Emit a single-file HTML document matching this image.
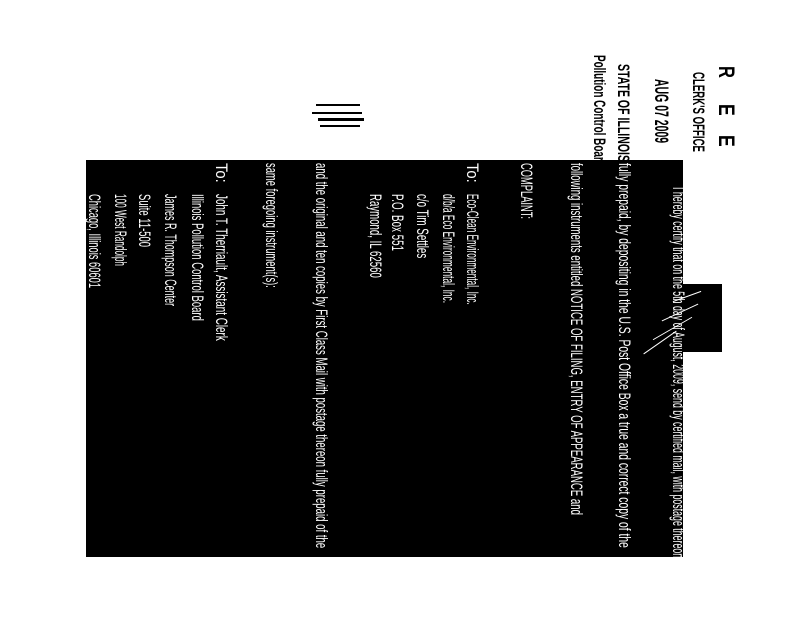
<!DOCTYPE html>
<html><head><meta charset="utf-8"><style>
html,body{margin:0;padding:0;background:#fff;}
#c{position:relative;width:800px;height:618px;overflow:hidden;background:#fff;}
.blk{position:absolute;background:#000;}
.t{position:absolute;writing-mode:vertical-rl;white-space:nowrap;font-family:"Liberation Sans",sans-serif;font-size:17px;line-height:17px;color:#fff;transform-origin:top left;}
.h{color:#000;font-weight:bold;}
.w{position:absolute;background:#fff;height:1px;}
</style></head><body><div id="c">
<div class="blk" style="left:86px;top:160px;width:597px;height:397px;"></div>
<div class="blk" style="left:682px;top:284px;width:40px;height:68px;"></div>
<div class="w" style="left:672px;top:296px;width:30px;transform:rotate(-20deg);"></div>
<div class="w" style="left:660px;top:312px;width:40px;transform:rotate(-25deg);"></div>
<div class="w" style="left:650px;top:328px;width:45px;transform:rotate(-30deg);"></div>
<div class="w" style="left:640px;top:342px;width:40px;transform:rotate(-35deg);"></div>
<div class="blk" style="left:316px;top:104px;width:44px;height:2px;"></div>
<div class="blk" style="left:312px;top:112px;width:50px;height:2px;"></div>
<div class="blk" style="left:318px;top:118px;width:46px;height:3px;"></div>
<div class="blk" style="left:320px;top:125px;width:40px;height:2px;"></div>

<div class="t" style="left:670px;top:187px;">I hereby certify that on the 5th day of August, 2009, send by certified mail, with postage thereon</div>
<div class="t" style="left:616px;top:163px;">fully prepaid, by depositing in the U.S. Post Office Box a true and correct copy of the</div>
<div class="t" style="left:568px;top:163px;">following instruments entitled NOTICE OF FILING, ENTRY OF APPEARANCE and</div>
<div class="t" style="left:518px;top:163px;">COMPLAINT:</div>
<div class="t" style="left:464px;top:163px;">To:</div>
<div class="t" style="left:464px;top:194px;">Eco-Clean Environmental, Inc.</div>
<div class="t" style="left:440px;top:194px;">d/b/a Eco Environmental, Inc.</div>
<div class="t" style="left:414px;top:194px;">c/o Tim Settles</div>
<div class="t" style="left:389px;top:194px;">P.O. Box 551</div>
<div class="t" style="left:367px;top:194px;">Raymond, IL 62560</div>
<div class="t" style="left:313px;top:163px;">and the original and ten copies by First Class Mail with postage thereon fully prepaid of the</div>
<div class="t" style="left:263px;top:163px;">same foregoing instrument(s):</div>
<div class="t" style="left:213px;top:163px;">To:</div>
<div class="t" style="left:213px;top:194px;">John T. Therriault, Assistant Clerk</div>
<div class="t" style="left:189px;top:194px;">Illinois Pollution Control Board</div>
<div class="t" style="left:162px;top:194px;">James R. Thompson Center</div>
<div class="t" style="left:136px;top:194px;">Suite 11-500</div>
<div class="t" style="left:112px;top:194px;">100 West Randolph</div>
<div class="t" style="left:86px;top:194px;">Chicago, Illinois 60601</div>

<div class="t h" style="left:715px;top:66px;font-size:22px;line-height:22px;">R</div>
<div class="t h" style="left:715px;top:104px;font-size:22px;line-height:22px;">E</div>
<div class="t h" style="left:715px;top:135px;font-size:22px;line-height:22px;">E</div>
<div class="t h" style="left:690px;top:72px;">CLERK'S OFFICE</div>
<div class="t h" style="left:651px;top:79px;font-size:19px;line-height:19px;">AUG 07 2009</div>
<div class="t h" style="left:615px;top:64px;">STATE OF ILLINOIS</div>
<div class="t h" style="left:591px;top:55px;">Pollution Control Board</div>
</div>
<script>
var L=[371,385,352,56,20,111,109,64,57,84,385,125,20,147,127,112,53,72,94,
 12,12,12,80,64,98,112];
var els=document.querySelectorAll('.t');
for(var i=0;i<els.length;i++){var e=els[i];var h=e.offsetHeight;if(h>0&&L[i])e.style.transform='scaleY('+(L[i]/h)+')';}
</script>
</body></html>
